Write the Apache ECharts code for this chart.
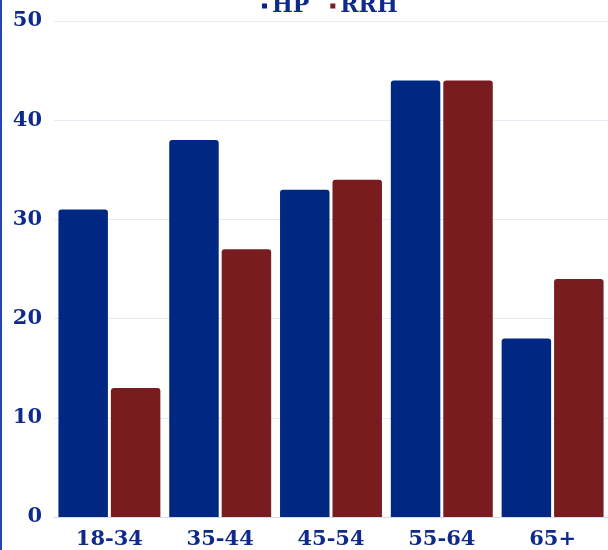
<!DOCTYPE html>
<html>
<head>
<meta charset="utf-8">
<script src="https://cdn.jsdelivr.net/npm/echarts@6/dist/echarts.min.js"></script>
<style>
html,body{margin:0;padding:0;background:#fff;overflow:hidden;}
#c{width:606px;height:550px;border-left:2px solid #2446b0;}
</style>
</head>
<body>
<div id="c"></div>
<script>
const categories = ['18-34', '35-44', '45-54', '55-64', '65+'];
const hpValues = [31, 38, 33, 44, 18];
const rrhValues = [13, 27, 34, 44, 24];
const yTicks = [0, 10, 20, 30, 40, 50];

const font = '"DejaVu Serif", "Liberation Serif", serif';
const textColor = '#0d2a8c';
const chart = echarts.init(document.getElementById('c'));
chart.setOption({
  animation: false,
  legend: {
    top: -10,
    left: 255,
    padding: 5,
    itemWidth: 5,
    itemHeight: 5,
    itemGap: 21,
    icon: 'rect',
    textStyle: { fontFamily: font, fontWeight: 'bold', fontSize: 22, color: textColor }
  },
  grid: { left: 52, right: 0, top: 21, bottom: 32 },
  xAxis: {
    type: 'category',
    data: categories,
    axisTick: { show: false },
    axisLine: { lineStyle: { color: '#d4d9ec', width: 1 } },
    axisLabel: { fontFamily: font, fontWeight: 'bold', fontSize: 21, color: textColor, margin: 12 }
  },
  yAxis: {
    type: 'value',
    min: yTicks[0],
    max: yTicks[yTicks.length - 1],
    interval: 10,
    axisLabel: { fontFamily: font, fontWeight: 'bold', fontSize: 21, color: textColor, margin: 12 },
    splitLine: { lineStyle: { color: '#e6e9f2', width: 1 } }
  },
  series: [
    { name: 'HP', type: 'bar', data: hpValues, barGap: '6%', barCategoryGap: '8%',
      itemStyle: { color: '#002882', borderRadius: [3,3,0,0] } },
    { name: 'RRH', type: 'bar', data: rrhValues,
      itemStyle: { color: '#781c20', borderRadius: [3,3,0,0] } }
  ]
});
</script>
</body>
</html>
